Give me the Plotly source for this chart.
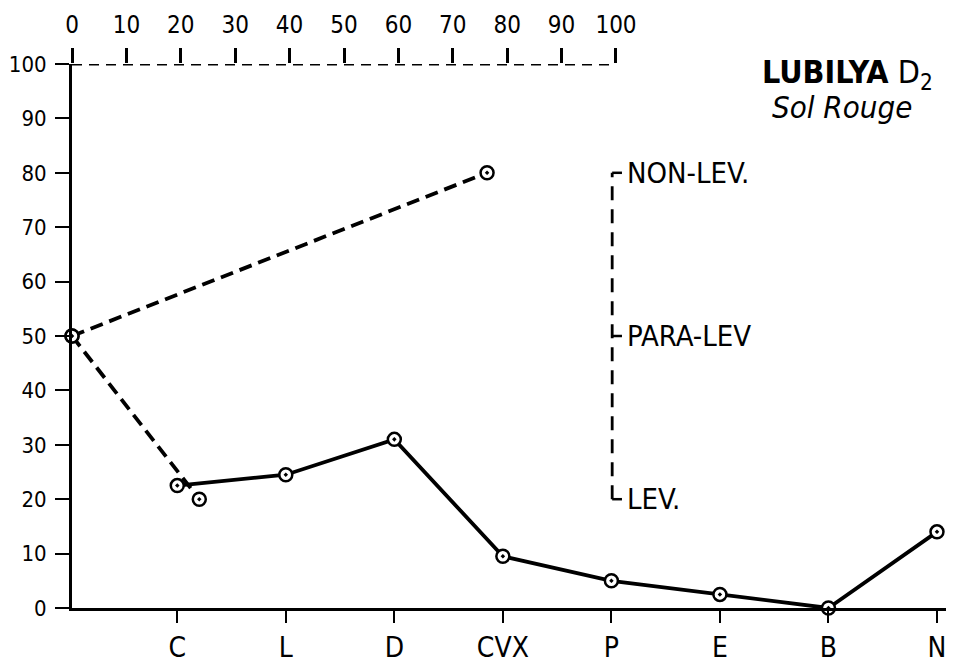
import plotly.graph_objects as go

# ---- data ----
categories = ["C", "L", "D", "CVX", "P", "E", "B", "N"]
solid_values = [22.5, 24.5, 31, 9.5, 5, 2.5, 0, 14]

upper_dash_x = [0, 76.3]
upper_dash_y = [50, 80]
lower_dash_x = [0, 23.4]
lower_dash_y = [50, 20]

top_ticks = [0, 10, 20, 30, 40, 50, 60, 70, 80, 90, 100]
y_ticks = [0, 10, 20, 30, 40, 50, 60, 70, 80, 90, 100]

bracket_levels = [80, 50, 20]
bracket_labels = ["NON-LEV.", "PARA-LEV", "LEV."]

FONT = "DejaVu Sans Condensed, Liberation Sans Narrow, DejaVu Sans, sans-serif"
cat_index = list(range(1, len(categories) + 1))

marker = dict(symbol="circle-dot", size=13, color="white",
              line=dict(color="black", width=2.5))

fig = go.Figure()
fig.add_trace(go.Scatter(x=cat_index, y=solid_values, mode="lines+markers",
                         line=dict(color="black", width=3.8), marker=marker,
                         cliponaxis=False, xaxis="x", yaxis="y", showlegend=False))
fig.add_trace(go.Scatter(x=upper_dash_x, y=upper_dash_y, mode="lines+markers",
                         line=dict(color="black", width=3.8, dash="13px,7px"),
                         marker=marker, cliponaxis=False, xaxis="x2", yaxis="y",
                         showlegend=False))
fig.add_trace(go.Scatter(x=lower_dash_x, y=lower_dash_y, mode="lines+markers",
                         line=dict(color="black", width=3.8, dash="13px,7px"),
                         marker=marker, cliponaxis=False, xaxis="x2", yaxis="y",
                         showlegend=False))

shapes = []
# dashed top axis line
shapes.append(dict(type="line", xref="x2", yref="y", x0=0, x1=100, y0=100, y1=100,
                   line=dict(color="black", width=3.2, dash="10px,7px")))
# y-axis line extension above 100
shapes.append(dict(type="line", xref="x2", yref="y", x0=0, x1=0, y0=100, y1=102.6,
                   line=dict(color="black", width=3)))
# bracket
bx = 99.3
shapes.append(dict(type="line", xref="x2", yref="y", x0=bx, x1=bx,
                   y0=min(bracket_levels), y1=max(bracket_levels),
                   line=dict(color="black", width=2.8, dash="14px,9px")))
annotations = []
for lvl, lab in zip(bracket_levels, bracket_labels):
    shapes.append(dict(type="line", xref="x2", yref="y", x0=bx, x1=bx + 1.8,
                       y0=lvl, y1=lvl, line=dict(color="black", width=2.5)))
    annotations.append(dict(x=bx + 2.4, y=lvl, xref="x2", yref="y", text=lab,
                            showarrow=False, xanchor="left", yanchor="middle",
                            font=dict(family=FONT, size=29, color="black")))

annotations.append(dict(x=0.7836, y=0.982, xref="paper", yref="paper",
                        text="<b>LUBILYA</b> D<sub>2</sub>", showarrow=False,
                        xanchor="left", yanchor="middle",
                        font=dict(family=FONT, size=32, color="black")))
annotations.append(dict(x=0.795, y=0.921, xref="paper", yref="paper",
                        text="<i>Sol Rouge</i>", showarrow=False,
                        xanchor="left", yanchor="middle",
                        font=dict(family=FONT, size=31, color="black")))

# page body has an 8px default margin, so the figure is drawn 8px in
fig.update_layout(
    width=946, height=656,
    margin=dict(l=64, r=4, t=56, b=56, autoexpand=False),
    paper_bgcolor="white", plot_bgcolor="white",
    font=dict(family=FONT, size=24, color="black"),
    shapes=shapes, annotations=annotations,
    xaxis=dict(range=[0.03, 8.12], tickvals=cat_index, ticktext=categories,
               showgrid=False, zeroline=False, showline=True, linecolor="black",
               linewidth=3, ticks="outside", ticklen=12, tickwidth=2,
               tickcolor="black", tickfont=dict(family=FONT, size=28),
               ticklabelstandoff=0, automargin=False),
    xaxis2=dict(range=[0, 161.4], overlaying="x", side="top", anchor="y",
                tickvals=top_ticks, showgrid=False, zeroline=False,
                showline=False, ticks="outside", ticklen=15, tickwidth=2.5,
                tickcolor="black", tickfont=dict(family=FONT, size=24),
                ticklabelstandoff=5, automargin=False),
    yaxis=dict(range=[0, 100], tickvals=y_ticks, showgrid=False, zeroline=False,
               showline=True, linecolor="black", linewidth=3, ticks="outside",
               ticklen=14, tickwidth=2, tickcolor="black",
               tickfont=dict(family=FONT, size=22), ticklabelstandoff=4,
               automargin=False),
)

fig.write_html("out.html")
